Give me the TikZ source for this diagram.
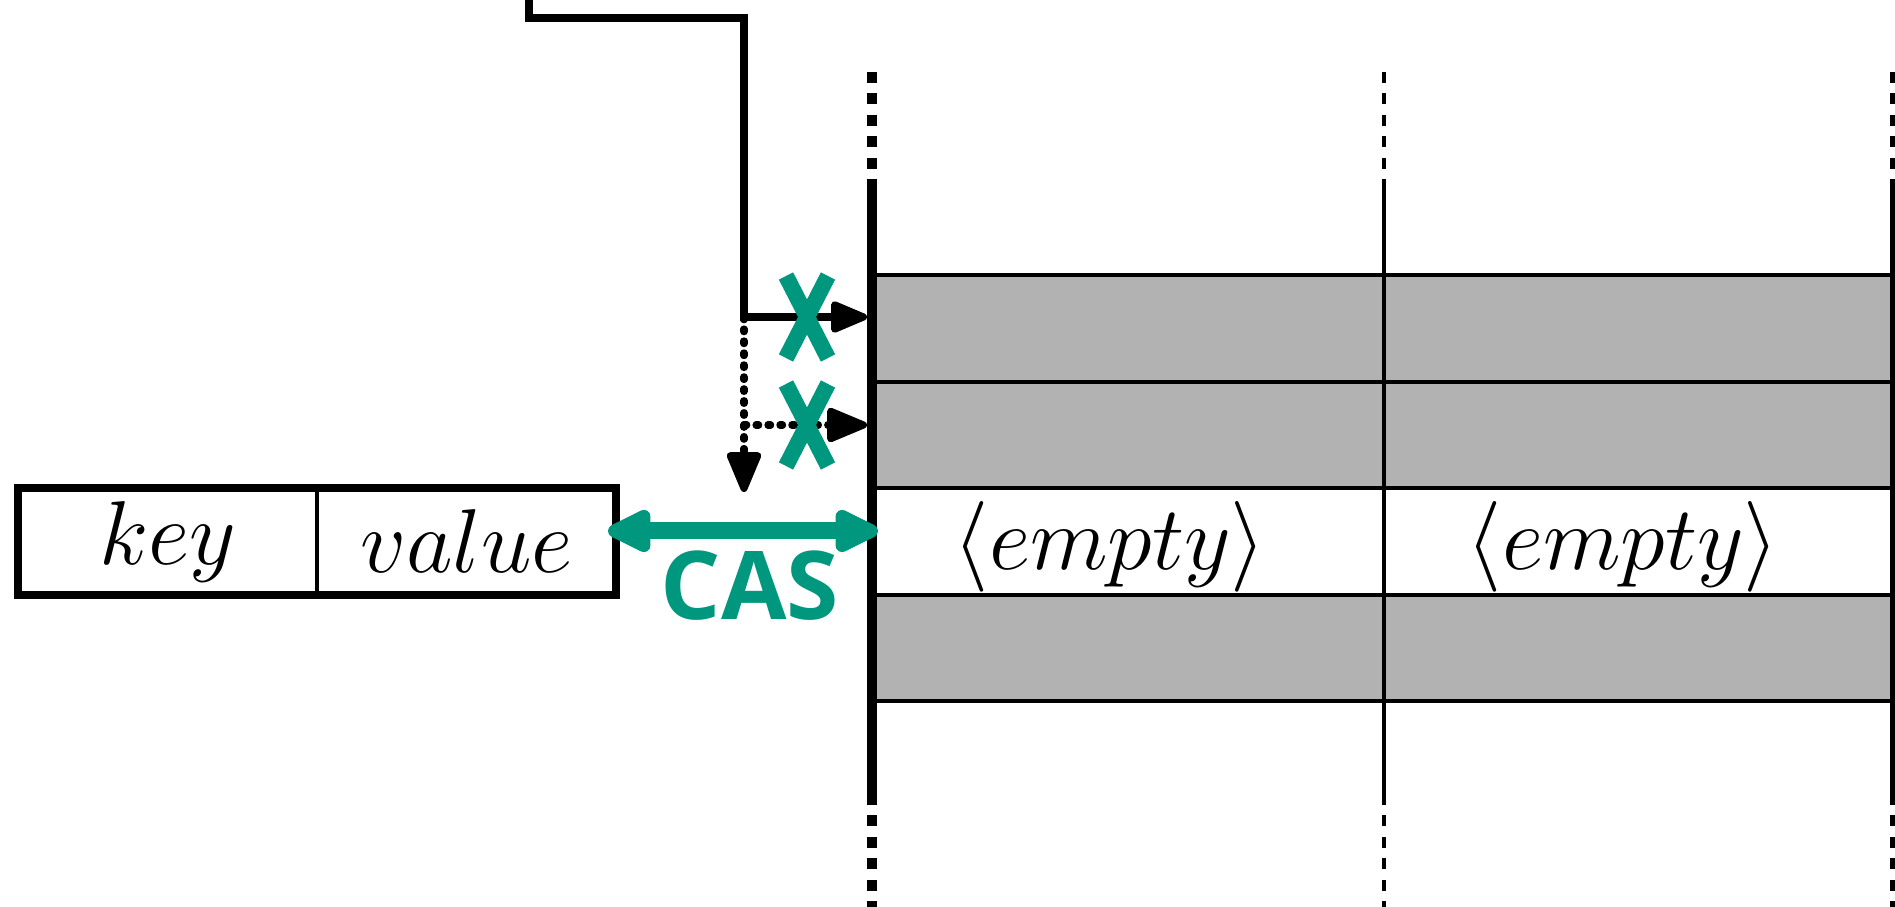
\RequirePackage{fix-cm}
\documentclass[tikz,border=0pt]{standalone}
\usepackage{fontspec}
\usepackage{tikz}
\usetikzlibrary{arrows.meta, positioning}
\newfontfamily\casfont{Open Sans}
\definecolor{casgreen}{HTML}{00977F}
\definecolor{slotgray}{HTML}{B2B2B2}

\begin{document}
\begin{tikzpicture}[y=-1cm,
  kvcell/.style={draw, line width=1.2pt, minimum width=2.99cm, minimum height=1.07cm, inner sep=0pt, outer sep=0pt, font=\fontsize{25.8}{31}\selectfont},
  slottext/.style={font=\fontsize{25.8}{31}\selectfont, inner sep=0pt},
  bar/.style={line width=0.1cm},
  barend/.style={bar, dash pattern=on 0.11cm off 0.105cm},
  ptr/.style={-{Triangle[length=0.42cm, width=0.33cm, round]}, line width=2pt},
  ptrdot/.style={-{Triangle[length=0.46cm, width=0.36cm, round]}, line width=2pt, dash pattern=on 0.8pt off 2.6pt, line cap=round},
  casarrow/.style={{Triangle[length=0.52cm, width=0.46cm, round]}-{Triangle[length=0.52cm, width=0.46cm, round]}, casgreen, line width=0.17cm},
  xmark/.style={casgreen, line width=0.16cm}
]
  \useasboundingbox (0,0) rectangle (18.95,9.07);

  % slots of the bucket array
  \foreach \top/\bot in {2.75/3.82, 3.82/4.88, 5.95/7.01}
    \fill[slotgray] (8.72,\top) rectangle (18.95,\bot);
  \foreach \y in {2.75, 3.82, 4.88, 5.95, 7.01}
    \draw[line width=1.2pt] (8.72,\y) -- (18.95,\y);

  % column borders, dashed where the array goes on
  \draw[bar] (8.72,1.82) -- (8.72,7.94);
  \draw[barend] (8.72,0.72) -- (8.72,1.82) (8.72,7.94) -- (8.72,9.07);
  \draw[line width=1pt] (13.84,1.82) -- (13.84,7.94);
  \draw[line width=1pt, dash pattern=on 0.11cm off 0.105cm] (13.84,0.72) -- (13.84,1.82) (13.84,7.94) -- (13.84,9.07);
  \draw[line width=0.06cm] (18.93,1.82) -- (18.93,7.94);
  \draw[line width=0.06cm, dash pattern=on 0.11cm off 0.105cm] (18.93,0.72) -- (18.93,1.82) (18.93,7.94) -- (18.93,9.07);

  \node[slottext] (empty1) at (11.10,5.47) {$\langle empty\rangle$};
  \node[slottext] (empty2) at (16.23,5.47) {$\langle empty\rangle$};

  % entry to insert
  \node[kvcell] (key) at (1.675,5.415) {\raisebox{-0.06cm}{$key$}};
  \node[kvcell, right=0pt of key] (value) {\raisebox{-0.06cm}{$value$}};
  \draw[line width=2.4pt] (key.north west) rectangle (value.south east);

  % probing
  \coordinate (src) at (5.29,0);
  \coordinate (split) at (7.44,3.17);
  \coordinate (hit1) at (8.67,3.17);
  \coordinate (hit2) at (8.67,4.25);
  \coordinate (next) at (7.44,4.92);
  \draw[ptr] (src) -- ++(0,0.18) -| (split) -- (hit1);
  \draw[ptrdot] (split) -- (next);
  \draw[ptrdot] (split |- hit2) -- (hit2);

  \foreach \y in {3.17, 4.25}
    \draw[xmark] (8.07,\y) +(-0.21,-0.41) -- +(0.21,0.41) +(-0.21,0.41) -- +(0.21,-0.41);

  % compare and swap into the free slot
  \coordinate (casL) at (6.08,5.31);
  \coordinate (casR) at (8.78,5.31);
  \draw[casarrow] (casL) -- (casR);
  \node[font=\casfont\bfseries\fontsize{27}{32}\selectfont, text=casgreen, inner sep=0pt] (cas) at (7.50,5.86) {CAS};
\end{tikzpicture}
\end{document}
